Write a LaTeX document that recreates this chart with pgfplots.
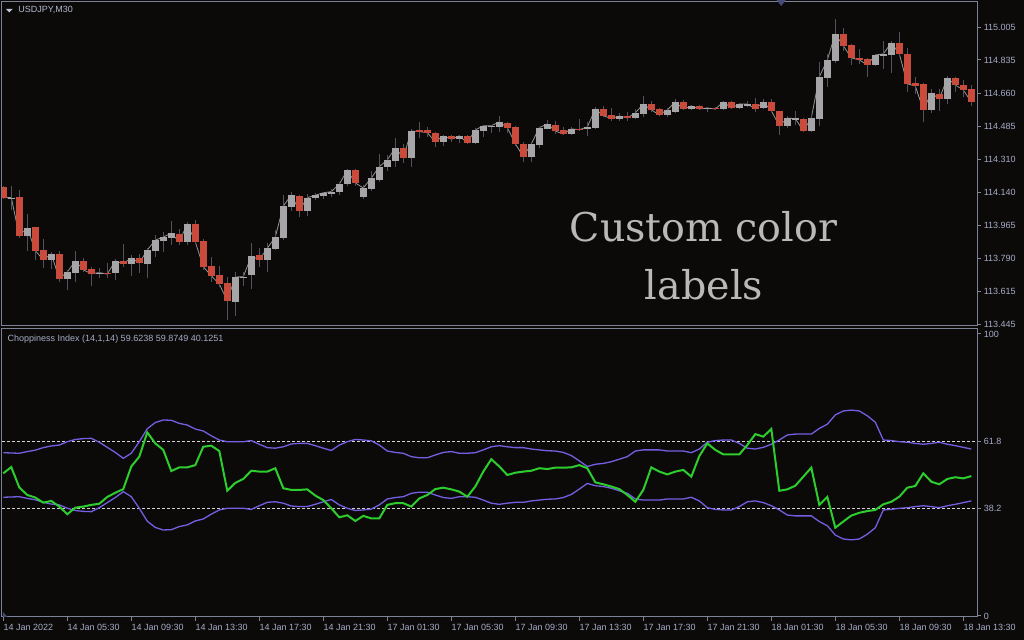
\documentclass[border=0pt]{standalone}
\usepackage{fontspec}
\setmainfont{Liberation Sans}
\newfontfamily\slab{DejaVu Serif}
\usepackage{pgfplots}
\usepackage{pgfplotstable}
\pgfplotsset{compat=1.18}

\definecolor{bg}{RGB}{12,10,8}
\definecolor{framec}{RGB}{125,130,150}
\definecolor{axtext}{RGB}{165,172,200}
\definecolor{wickc}{RGB}{80,83,95}
\definecolor{bullc}{RGB}{166,166,168}
\definecolor{bearc}{RGB}{200,75,60}
\definecolor{closec}{RGB}{150,150,150}
\definecolor{chopc}{RGB}{45,205,45}
\definecolor{bandc}{RGB}{115,95,225}
\definecolor{levelc}{RGB}{210,210,210}
\definecolor{bigtext}{RGB}{185,185,185}
\definecolor{markc}{RGB}{70,75,120}

% USDJPY M30 candles: bar, open, high, low, close
\pgfplotstableread{
x o h l c
0 114.166 114.172 114.103 114.110
1 114.106 114.172 114.045 114.111
2 114.114 114.151 113.898 113.910
3 113.910 114.024 113.831 113.951
4 113.956 113.956 113.782 113.831
5 113.835 113.893 113.742 113.784
6 113.784 113.826 113.735 113.814
7 113.814 113.830 113.668 113.684
8 113.684 113.729 113.624 113.719
9 113.715 113.830 113.668 113.777
10 113.777 113.793 113.720 113.731
11 113.735 113.747 113.647 113.710
12 113.706 113.740 113.689 113.716
13 113.714 113.766 113.689 113.708
14 113.715 113.789 113.678 113.777
15 113.777 113.866 113.745 113.763
16 113.763 113.808 113.699 113.793
17 113.793 113.814 113.715 113.766
18 113.763 113.845 113.689 113.835
19 113.831 113.914 113.800 113.887
20 113.884 113.930 113.826 113.903
21 113.900 113.987 113.863 113.924
22 113.919 113.945 113.861 113.878
23 113.878 113.984 113.863 113.972
24 113.972 113.993 113.866 113.878
25 113.882 113.894 113.729 113.747
26 113.751 113.798 113.668 113.699
27 113.703 113.751 113.642 113.656
28 113.661 113.694 113.466 113.568
29 113.563 113.720 113.487 113.693
30 113.688 113.720 113.645 113.694
31 113.703 113.872 113.631 113.802
32 113.808 113.845 113.747 113.784
33 113.784 113.873 113.720 113.844
34 113.842 113.940 113.835 113.903
35 113.898 114.124 113.887 114.066
36 114.063 114.140 114.042 114.124
37 114.119 114.124 114.007 114.042
38 114.042 114.128 114.015 114.110
39 114.110 114.135 114.098 114.123
40 114.121 114.142 114.102 114.136
41 114.131 114.156 114.114 114.142
42 114.140 114.194 114.124 114.182
43 114.181 114.261 114.172 114.254
44 114.256 114.261 114.173 114.188
45 114.114 114.175 114.103 114.161
46 114.156 114.251 114.145 114.214
47 114.203 114.340 114.193 114.273
48 114.273 114.333 114.252 114.309
49 114.305 114.424 114.270 114.372
50 114.372 114.393 114.294 114.321
51 114.321 114.470 114.273 114.461
52 114.467 114.509 114.424 114.458
53 114.464 114.484 114.428 114.452
54 114.449 114.458 114.379 114.405
55 114.405 114.440 114.382 114.435
56 114.435 114.440 114.405 114.418
57 114.418 114.442 114.397 114.435
58 114.435 114.440 114.393 114.400
59 114.400 114.476 114.393 114.467
60 114.463 114.493 114.431 114.488
61 114.484 114.493 114.449 114.489
62 114.482 114.540 114.458 114.509
63 114.503 114.510 114.451 114.479
64 114.482 114.488 114.382 114.394
65 114.393 114.405 114.300 114.326
66 114.326 114.405 114.300 114.393
67 114.388 114.484 114.373 114.479
68 114.473 114.518 114.472 114.498
69 114.493 114.514 114.444 114.461
70 114.467 114.481 114.440 114.445
71 114.445 114.481 114.440 114.472
72 114.473 114.524 114.461 114.468
73 114.472 114.510 114.436 114.482
74 114.479 114.589 114.472 114.577
75 114.577 114.593 114.533 114.542
76 114.546 114.582 114.516 114.526
77 114.526 114.556 114.516 114.540
78 114.540 114.561 114.516 114.530
79 114.530 114.577 114.524 114.556
80 114.551 114.646 114.537 114.603
81 114.603 114.619 114.561 114.572
82 114.577 114.582 114.540 114.546
83 114.546 114.582 114.535 114.572
84 114.561 114.630 114.556 114.614
85 114.614 114.625 114.572 114.577
86 114.577 114.598 114.572 114.593
87 114.593 114.600 114.572 114.577
88 114.577 114.589 114.561 114.582
89 114.582 114.588 114.572 114.577
90 114.577 114.619 114.572 114.614
91 114.614 114.619 114.577 114.582
92 114.582 114.609 114.579 114.603
93 114.593 114.619 114.589 114.603
94 114.603 114.635 114.561 114.577
95 114.582 114.630 114.577 114.614
96 114.614 114.630 114.561 114.568
97 114.567 114.568 114.440 114.488
98 114.488 114.540 114.477 114.528
99 114.519 114.567 114.493 114.527
100 114.524 114.528 114.456 114.461
101 114.461 114.546 114.458 114.530
102 114.524 114.826 114.489 114.746
103 114.740 114.865 114.695 114.835
104 114.830 115.051 114.821 114.972
105 114.972 115.004 114.883 114.909
106 114.914 114.918 114.809 114.846
107 114.846 114.893 114.814 114.835
108 114.840 114.846 114.746 114.809
109 114.809 114.867 114.804 114.861
110 114.858 114.935 114.788 114.867
111 114.861 114.935 114.767 114.925
112 114.925 114.983 114.856 114.867
113 114.867 114.898 114.667 114.709
114 114.714 114.746 114.656 114.698
115 114.709 114.714 114.507 114.572
116 114.572 114.682 114.556 114.661
117 114.656 114.682 114.567 114.630
118 114.630 114.751 114.603 114.740
119 114.740 114.746 114.667 114.703
120 114.703 114.730 114.640 114.677
121 114.682 114.703 114.593 114.614
}\candles

% Choppiness Index (14,1,14): bar, index, upper band, lower band
\pgfplotstableread{
x g u l
0 50.6 57.9 42.1
1 52.8 57.8 42.2
2 45.6 57.7 42.3
3 42.9 58.3 41.7
4 42.0 58.8 41.2
5 40.2 59.7 40.3
6 40.8 60.3 39.7
7 38.8 60.6 39.4
8 36.1 61.8 38.2
9 38.4 62.6 37.4
10 38.8 62.9 37.1
11 39.4 63.0 37.0
12 39.8 61.6 38.4
13 42.2 59.8 40.2
14 43.7 58.0 42.0
15 45.0 55.9 44.1
16 53.0 57.7 42.3
17 56.5 61.8 38.2
18 65.1 66.4 33.6
19 61.2 68.6 31.4
20 58.9 69.5 30.5
21 51.4 69.4 30.6
22 52.7 68.3 31.7
23 52.7 67.7 32.3
24 53.5 66.3 33.7
25 60.0 65.6 34.4
26 60.4 63.9 36.1
27 58.5 62.4 37.6
28 44.4 61.8 38.2
29 47.2 61.8 38.2
30 48.6 61.8 38.2
31 51.5 62.2 37.8
32 51.2 60.9 39.1
33 51.2 59.7 40.3
34 52.4 59.5 40.5
35 45.3 60.0 40.0
36 44.7 61.0 39.0
37 44.7 61.2 38.8
38 44.9 61.2 38.8
39 42.7 60.4 39.6
40 41.1 59.5 40.5
41 38.2 58.7 41.3
42 35.0 60.6 39.4
43 35.7 61.8 38.2
44 33.7 62.6 37.4
45 35.5 62.4 37.6
46 34.6 62.1 37.9
47 34.6 60.6 39.4
48 39.4 58.5 41.5
49 40.0 58.0 42.0
50 40.0 57.7 42.3
51 38.8 56.5 43.5
52 41.7 56.1 43.9
53 42.9 56.1 43.9
54 45.0 57.1 42.9
55 45.5 58.0 42.0
56 44.9 58.3 41.7
57 44.1 57.7 42.3
58 42.3 57.7 42.3
59 45.9 57.9 42.1
60 51.2 58.9 41.1
61 55.6 60.0 40.0
62 53.0 60.4 39.6
63 50.0 60.0 40.0
64 50.8 59.7 40.3
65 51.2 59.7 40.3
66 51.5 59.2 40.8
67 52.4 58.9 41.1
68 52.1 58.6 41.4
69 52.6 58.5 41.5
70 52.6 58.0 42.0
71 52.7 56.9 43.1
72 53.5 55.0 45.0
73 52.4 53.0 47.0
74 47.4 53.8 46.2
75 46.7 54.1 45.9
76 45.9 54.7 45.3
77 45.0 55.6 44.4
78 42.9 56.5 43.5
79 40.5 58.5 41.5
80 44.7 58.9 41.1
81 52.7 58.9 41.1
82 51.2 58.9 41.1
83 50.2 58.5 41.5
84 51.2 58.5 41.5
85 51.8 58.5 41.5
86 49.4 57.9 42.1
87 56.7 59.2 40.8
88 61.2 61.6 38.4
89 58.9 62.2 37.8
90 57.3 62.4 37.6
91 57.3 62.4 37.6
92 57.3 61.2 38.8
93 60.6 59.5 40.5
94 64.5 59.2 40.8
95 63.6 59.8 40.2
96 66.3 60.9 39.1
97 44.4 62.4 37.6
98 44.9 64.2 35.8
99 46.2 64.5 35.5
100 49.4 64.5 35.5
101 52.6 64.5 35.5
102 39.4 66.5 33.5
103 42.2 68.0 32.0
104 31.3 71.3 28.7
105 33.5 72.7 27.3
106 35.6 73.0 27.0
107 36.6 72.7 27.3
108 37.2 71.0 29.0
109 37.6 68.7 31.3
110 39.6 62.4 37.6
111 40.5 62.2 37.8
112 42.3 61.8 38.2
113 45.5 61.6 38.4
114 46.1 61.2 38.8
115 50.6 60.9 39.1
116 47.6 61.2 38.8
117 46.7 61.6 38.4
118 48.6 60.9 39.1
119 49.2 60.4 39.6
120 48.8 59.8 40.2
121 49.6 59.2 40.8
}\chop

\pgfplotsset{
  mtpane/.style={
    scale only axis, anchor=south west,
    width=487.5pt,
    xmin=-0.16, xmax=121.71,
    axis line style={draw=framec, line width=0.5pt},
    tick style={draw=framec, line width=0.5pt},
    tick align=outside, major tick length=2pt,
    ytick pos=right, yticklabel pos=right,
    tick label style={font=\fontsize{4.5}{5}\selectfont, text=axtext},
    yticklabel style={anchor=west, inner sep=0pt, xshift=1.2pt},
  },
  candle/.style={only marks, mark=*, mark size=0pt,
    mark options={draw=none, fill=none}, forget plot,
    error bars/y dir=plus, error bars/y explicit, error bars/error mark=none},
}

\begin{document}
\begin{tikzpicture}
\fill[bg] (0,0) rectangle (512pt,320pt);
\useasboundingbox (0,0) rectangle (512pt,320pt);

% price pane
\begin{axis}[mtpane, at={(1pt,157pt)}, height=162pt,
  ymin=113.435, ymax=115.140, xtick=\empty,
  ytick={113.445,113.615,113.790,113.965,114.140,114.310,114.485,114.660,114.835,115.005},
  yticklabels={113.445,113.615,113.790,113.965,114.140,114.310,114.485,114.660,114.835,115.005},
]
\addplot[closec, line width=0.4pt] table[x=x, y=c] {\candles};
\addplot[candle, error bars/error bar style={draw=wickc, line width=0.5pt}]
  table[x=x, y=l, y error expr=\thisrow{h}-\thisrow{l}] {\candles};
\addplot[candle, restrict expr to domain={\thisrow{c}-\thisrow{o}}{0:1},
  error bars/error bar style={draw=bullc, line width=3.3pt}]
  table[x=x, y=o, y error expr=\thisrow{c}-\thisrow{o}] {\candles};
\addplot[candle, restrict expr to domain={\thisrow{o}-\thisrow{c}}{0.000001:1},
  error bars/error bar style={draw=bearc, line width=3.3pt}]
  table[x=x, y=c, y error expr=\thisrow{o}-\thisrow{c}] {\candles};
\end{axis}

% indicator pane
\begin{axis}[mtpane, at={(1pt,11.5pt)}, height=144pt,
  ymin=-0.355, ymax=101.77,
  ytick={0,38.2,61.8,100}, yticklabels={0,38.2,61.8,100},
  xtick={0,8,...,120}, xtick pos=bottom,
  xticklabels={14 Jan 2022,14 Jan 05:30,14 Jan 09:30,14 Jan 13:30,14 Jan 17:30,
    14 Jan 21:30,17 Jan 01:30,17 Jan 05:30,17 Jan 09:30,17 Jan 13:30,17 Jan 17:30,
    17 Jan 21:30,18 Jan 01:30,18 Jan 05:30,18 Jan 09:30,18 Jan 13:30},
  xticklabel style={anchor=north west, inner sep=0pt, yshift=-1.5pt},
]
\addplot[levelc, line width=0.5pt, dash pattern=on 1.5pt off 1pt] coordinates {(-0.16,61.8) (121.71,61.8)};
\addplot[levelc, line width=0.5pt, dash pattern=on 1.5pt off 1pt] coordinates {(-0.16,38.2) (121.71,38.2)};
\addplot[bandc, line width=0.65pt] table[x=x, y=u] {\chop};
\addplot[bandc, line width=0.65pt] table[x=x, y=l] {\chop};
\addplot[chopc, line width=1pt] table[x=x, y=g] {\chop};
\end{axis}

% pane captions and markers
\fill[axtext!70] (3pt,315.5pt) -- (6.3pt,315.5pt) -- (4.65pt,313.8pt) -- cycle;
\node[anchor=west, inner sep=0pt, text=axtext!85, font=\fontsize{4.5}{5}\selectfont] at (9pt,314.8pt) {USDJPY,M30};
\node[anchor=west, inner sep=0pt, text=axtext, font=\fontsize{4.5}{5}\selectfont] at (3.65pt,150.6pt) {Choppiness Index (14,1,14) 59.6238 59.8749 40.1251};
\fill[markc] (388.3pt,320pt) -- (392.9pt,320pt) -- (390.6pt,317pt) -- cycle;
\fill[markc] (1.4pt,11.5pt) -- (1.4pt,14pt) -- (3.8pt,11.5pt) -- cycle;

\node[anchor=base, inner sep=0pt, text=bigtext, font=\slab\fontsize{19.8}{24}\selectfont] at (351.75pt,199pt) {Custom color};
\node[anchor=base, inner sep=0pt, text=bigtext, font=\slab\fontsize{19.8}{24}\selectfont] at (352pt,170pt) {labels};
\end{tikzpicture}
\end{document}
